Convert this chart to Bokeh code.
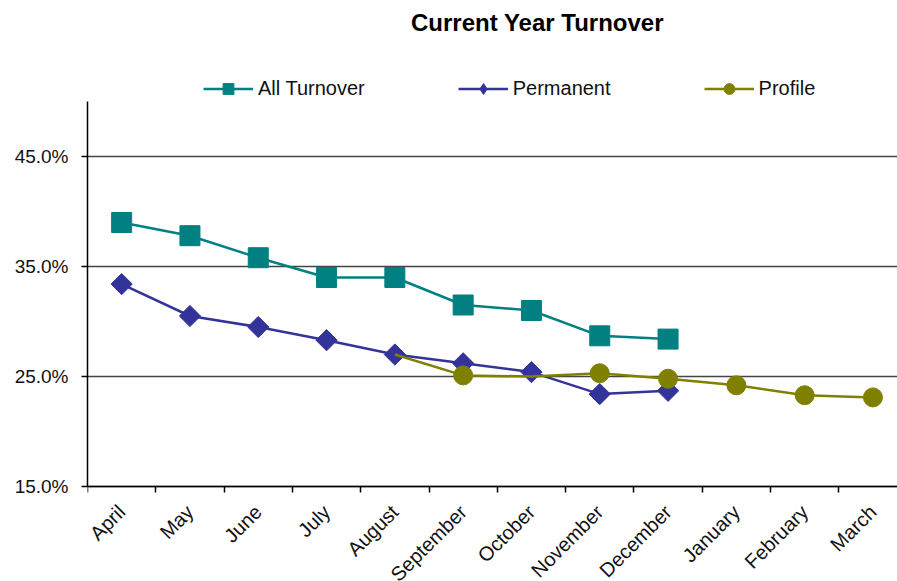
import numpy as np
from bokeh.plotting import figure
from bokeh.models import (FixedTicker, PrintfTickFormatter, Legend, LegendItem, Range1d, Label)
from bokeh.embed import file_html
from bokeh.resources import INLINE

# ---- data ----
months = ["April", "May", "June", "July", "August", "September", "October",
          "November", "December", "January", "February", "March"]
all_turnover = [39.0, 37.8, 35.8, 34.0, 34.0, 31.5, 31.0, 28.7, 28.4]          # April..December
permanent = [33.4, 30.5, 29.5, 28.3, 27.0, 26.2, 25.4, 23.4, 23.7]             # April..December
profile_months = ["August", "September", "October", "November", "December",
                  "January", "February", "March"]
profile = [27.0, 25.1, 25.0, 25.3, 24.8, 24.2, 23.3, 23.1]
profile_marker_shown = [False, True, False, True, True, True, True, True]
y_ticks = [15, 25, 35, 45]
y_min, y_max = 15, 50

FONT = "Liberation Sans"
TEAL = "#008080"
BLUE = "#333399"
OLIVE = "#808000"
TEXT = "#111111"

idx = {m: i for i, m in enumerate(months)}
x_all = list(range(len(all_turnover)))
x_perm = list(range(len(permanent)))
x_prof = [idx[m] for m in profile_months]
x_prof_m = [x for x, s in zip(x_prof, profile_marker_shown) if s]
y_prof_m = [y for y, s in zip(profile, profile_marker_shown) if s]

# layout: plot area spans the whole canvas height; the axes are bounded to 15..50
W, H = 897, 581
LEFT = 87
AXIS_Y_PX = 486      # pixel row of the 15% axis
PX_PER_UNIT = 11.0
y_lo = y_min - (H - AXIS_Y_PX) / PX_PER_UNIT
y_hi = y_min + AXIS_Y_PX / PX_PER_UNIT
cat_px = 68.3
x_hi = -0.5 + (W - LEFT) / cat_px

p = figure(width=W, height=H, output_backend="svg", toolbar_location=None,
           x_range=Range1d(-0.5, x_hi), y_range=Range1d(y_lo, y_hi),
           min_border_left=LEFT, min_border_right=0, min_border_bottom=0,
           min_border_top=0)
p.outline_line_color = None
p.background_fill_color = "white"
p.border_fill_color = "white"

# title as a text annotation
title = Label(x=537 - LEFT, y=H - 22, x_units="screen", y_units="screen",
              text="Current Year Turnover", text_align="center",
              text_baseline="alphabetic", text_font=FONT, text_font_size="24px",
              text_font_style="bold", text_color="black")
p.add_layout(title)

# series
l_all = p.line(x_all, all_turnover, color=TEAL, line_width=2.5)
m_all = p.scatter(x_all, all_turnover, marker="square", size=20, color=TEAL)
l_perm = p.line(x_perm, permanent, color=BLUE, line_width=2.5)
# small diamond used as the legend key (fully hidden under the large markers)
key_perm = p.scatter(x_perm, permanent, marker="diamond", size=12, color=BLUE)
m_perm = p.scatter(x_perm, permanent, marker="square", angle=np.pi / 4, size=15, color=BLUE)
l_prof = p.line(x_prof, profile, color=OLIVE, line_width=2.5)
m_prof = p.scatter(x_prof_m, y_prof_m, marker="circle", size=19, color=OLIVE)

legend = Legend(items=[
    LegendItem(label="All Turnover", renderers=[l_all, m_all]),
    LegendItem(label="Permanent", renderers=[l_perm, key_perm]),
    LegendItem(label="Profile", renderers=[l_prof, m_prof]),
], orientation="horizontal", location=(203 - LEFT, H - 102), glyph_width=50,
   glyph_height=27, label_standoff=5, spacing=93, padding=0, margin=0,
   border_line_color=None, background_fill_alpha=0, label_text_font=FONT,
   label_text_font_size="20px", label_text_color=TEXT)
p.add_layout(legend, "center")

# x axis (drawn at the 15% level)
xa = p.xaxis[0]
xa.fixed_location = y_min
xa.ticker = FixedTicker(ticks=list(range(len(months))),
                        minor_ticks=[i - 0.5 for i in range(len(months) + 1)])
xa.major_label_overrides = {i: m for i, m in enumerate(months)}
xa.major_label_orientation = np.pi / 4
xa.major_tick_line_color = None
xa.major_tick_out = 0
xa.major_tick_in = 0
xa.minor_tick_out = 6
xa.minor_tick_in = 0
xa.minor_tick_line_color = "black"
xa.minor_tick_line_width = 1.5
xa.axis_line_color = "black"
xa.axis_line_width = 1.5
xa.major_label_standoff = 16
xa.major_label_text_font = FONT
xa.major_label_text_font_size = "20px"
xa.major_label_text_color = TEXT
p.xgrid.visible = False

# y axis
ya = p.yaxis[0]
ya.bounds = (y_min, y_max)
ya.ticker = FixedTicker(ticks=y_ticks)
ya.formatter = PrintfTickFormatter(format="%.1f%%")
ya.major_tick_out = 6
ya.major_tick_in = 0
ya.major_tick_line_color = "black"
ya.major_tick_line_width = 1.5
ya.minor_tick_line_color = None
ya.axis_line_color = "black"
ya.axis_line_width = 1.5
ya.major_label_standoff = 13
ya.major_label_text_font = FONT
ya.major_label_text_font_size = "19px"
ya.major_label_text_color = TEXT
p.ygrid.grid_line_color = "#444444"
p.ygrid.grid_line_width = 1.5

open("out.html", "w").write(file_html(p, INLINE))
